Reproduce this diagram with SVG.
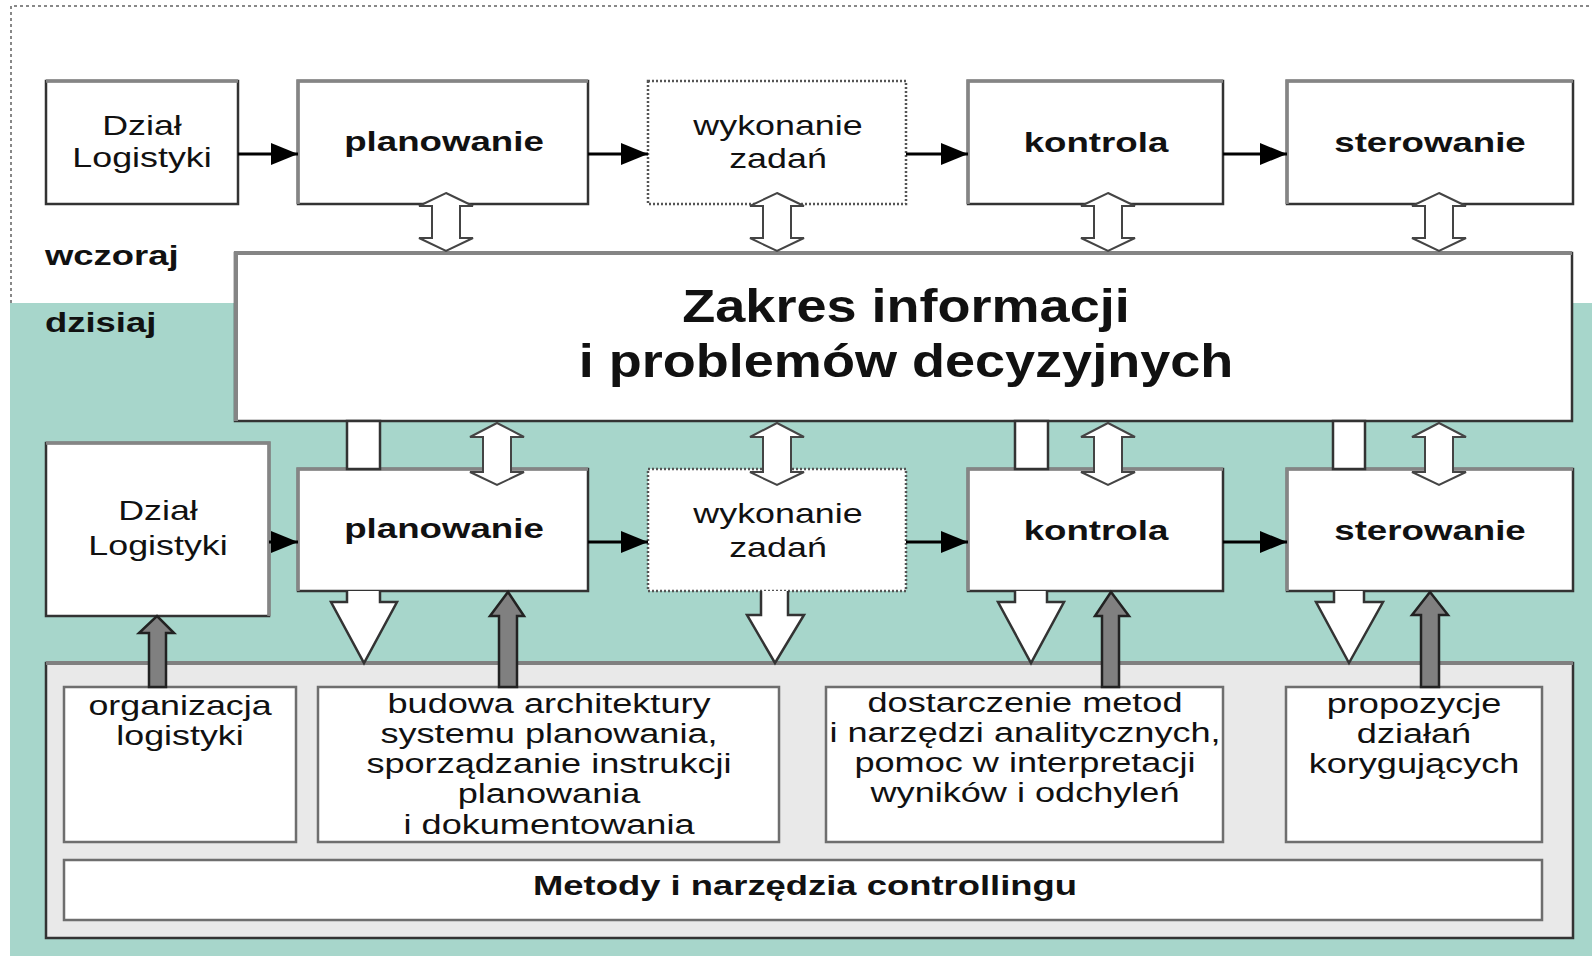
<svg xmlns="http://www.w3.org/2000/svg" width="1592" height="956" viewBox="0 0 1592 956">
<defs>
<style>
.t{font-family:"Liberation Sans",Arial,sans-serif;font-size:28px;fill:#111;text-anchor:middle}
.b{font-weight:bold}
.big{font-family:"Liberation Sans",Arial,sans-serif;font-size:47px;font-weight:bold;fill:#111;text-anchor:middle}
.box{fill:#fff;stroke:#333;stroke-width:2.5}
.dot{fill:#fff;stroke:#555;stroke-width:2.5;stroke-dasharray:2 2}
.hl{fill:none;stroke:#858585;stroke-width:3.5}
.sub{fill:#fff;stroke:#6e6e6e;stroke-width:2.5}
.dbl{fill:#fff;stroke:#444;stroke-width:2}
.wdn{fill:#fff;stroke:#333;stroke-width:2.5}
.gup{fill:#808080;stroke:#222;stroke-width:2.5}
.ln{stroke:#000;stroke-width:3;fill:none}
.frame{stroke:#888;stroke-width:2;stroke-dasharray:3 3;fill:none}
</style>
<marker id="ah" markerUnits="userSpaceOnUse" markerWidth="28" markerHeight="22" refX="27" refY="11" orient="auto">
<path d="M0,0 L27,11 L0,22 Z" fill="#000"/>
</marker>
</defs>

<g id="background">
<rect x="0" y="0" width="1592" height="956" fill="#fff"/>
<path class="frame" d="M11,303 V6 H1592"/>
<rect x="10" y="303" width="1582" height="653" fill="#a7d6cb"/>
<text class="t b" transform="translate(45,265) scale(1.35,1)" style="text-anchor:start;font-size:27px">wczoraj</text>
<text class="t b" transform="translate(45,332) scale(1.35,1)" style="text-anchor:start;font-size:27px">dzisiaj</text>
</g>

<g id="panel">
<rect x="46" y="663" width="1527" height="275" fill="#e9e9e9" stroke="#333" stroke-width="2.5"/>
<path d="M46,663 H1573" stroke="#808080" stroke-width="4"/>
</g>

<g id="zakres">
<rect class="box" x="235" y="253" width="1337" height="168"/>
<path class="hl" d="M236,421 V253 H1572" style="stroke-width:4"/>
<text class="big" transform="translate(906,322) scale(1.15,1)">Zakres informacji</text>
<text class="big" transform="translate(906,377) scale(1.15,1)">i problemów decyzyjnych</text>
</g>

<g id="dzial-top">
<rect class="box" x="46" y="81" width="192" height="123"/>
<path class="hl" d="M46,81 H238"/>
<text class="t" transform="translate(142,135) scale(1.28,1)">Dział</text>
<text class="t" transform="translate(142,167) scale(1.28,1)">Logistyki</text>
</g>
<g id="planowanie-top">
<rect class="box" x="298" y="81" width="290" height="123"/>
<path class="hl" d="M298,204 V81 H588"/>
<text class="t b" transform="translate(444,151) scale(1.31,1)">planowanie</text>
</g>
<g id="wykonanie-top">
<rect class="dot" x="648" y="81" width="258" height="123"/>
<text class="t" transform="translate(778,135) scale(1.28,1)">wykonanie</text>
<text class="t" transform="translate(778,168) scale(1.28,1)">zadań</text>
</g>
<g id="kontrola-top">
<rect class="box" x="968" y="81" width="255" height="123"/>
<path class="hl" d="M968,204 V81 H1223"/>
<text class="t b" transform="translate(1096,152) scale(1.31,1)">kontrola</text>
</g>
<g id="sterowanie-top">
<rect class="box" x="1287" y="81" width="286" height="123"/>
<path class="hl" d="M1287,204 V81 H1573"/>
<text class="t b" transform="translate(1430,152) scale(1.31,1)">sterowanie</text>
</g>

<g id="dzial-low">
<rect class="box" x="46" y="443" width="223" height="173"/>
<path class="hl" d="M46,443 H269 V616"/>
<text class="t" transform="translate(158,520) scale(1.28,1)">Dział</text>
<text class="t" transform="translate(158,555) scale(1.28,1)">Logistyki</text>
</g>
<g id="planowanie-low">
<rect class="box" x="298" y="469" width="290" height="122"/>
<path class="hl" d="M298,591 V469 H588"/>
<text class="t b" transform="translate(444,538) scale(1.31,1)">planowanie</text>
</g>
<g id="wykonanie-low">
<rect class="dot" x="648" y="469" width="258" height="122"/>
<text class="t" transform="translate(778,523) scale(1.28,1)">wykonanie</text>
<text class="t" transform="translate(778,557) scale(1.28,1)">zadań</text>
</g>
<g id="kontrola-low">
<rect class="box" x="968" y="469" width="255" height="122"/>
<path class="hl" d="M968,591 V469 H1223"/>
<text class="t b" transform="translate(1096,540) scale(1.31,1)">kontrola</text>
</g>
<g id="sterowanie-low">
<rect class="box" x="1287" y="469" width="286" height="122"/>
<path class="hl" d="M1287,591 V469 H1573"/>
<text class="t b" transform="translate(1430,540) scale(1.31,1)">sterowanie</text>
</g>

<g id="organizacja">
<rect class="sub" x="64" y="687" width="232" height="155"/>
<text class="t" transform="translate(180,715) scale(1.28,1)">organizacja</text>
<text class="t" transform="translate(180,745) scale(1.28,1)">logistyki</text>
</g>
<g id="budowa">
<rect class="sub" x="318" y="687" width="461" height="155"/>
<text class="t" transform="translate(549,713) scale(1.29,1)">budowa architektury</text>
<text class="t" transform="translate(549,743) scale(1.29,1)">systemu planowania,</text>
<text class="t" transform="translate(549,773) scale(1.29,1)">sporządzanie instrukcji</text>
<text class="t" transform="translate(549,803) scale(1.29,1)">planowania</text>
<text class="t" transform="translate(549,834) scale(1.29,1)">i dokumentowania</text>
</g>
<g id="dostarczenie">
<rect class="sub" x="826" y="687" width="397" height="155"/>
<text class="t" transform="translate(1025,712) scale(1.29,1)">dostarczenie metod</text>
<text class="t" transform="translate(1025,742) scale(1.29,1)">i narzędzi analitycznych,</text>
<text class="t" transform="translate(1025,772) scale(1.29,1)">pomoc w interpretacji</text>
<text class="t" transform="translate(1025,802) scale(1.29,1)">wyników i odchyleń</text>
</g>
<g id="propozycje">
<rect class="sub" x="1286" y="687" width="256" height="155"/>
<text class="t" transform="translate(1414,713) scale(1.29,1)">propozycje</text>
<text class="t" transform="translate(1414,743) scale(1.29,1)">działań</text>
<text class="t" transform="translate(1414,773) scale(1.29,1)">korygujących</text>
</g>
<g id="metody">
<rect class="sub" x="64" y="860" width="1478" height="60"/>
<text class="t b" transform="translate(805,895) scale(1.3,1)">Metody i narzędzia controllingu</text>
</g>

<g id="connectors">
<line class="ln" x1="238" y1="154" x2="298" y2="154" marker-end="url(#ah)"/>
<line class="ln" x1="588" y1="154" x2="648" y2="154" marker-end="url(#ah)"/>
<line class="ln" x1="906" y1="154" x2="968" y2="154" marker-end="url(#ah)"/>
<line class="ln" x1="1223" y1="154" x2="1287" y2="154" marker-end="url(#ah)"/>
<line class="ln" x1="269" y1="542" x2="298" y2="542" marker-end="url(#ah)"/>
<line class="ln" x1="588" y1="542" x2="648" y2="542" marker-end="url(#ah)"/>
<line class="ln" x1="906" y1="542" x2="968" y2="542" marker-end="url(#ah)"/>
<line class="ln" x1="1223" y1="542" x2="1287" y2="542" marker-end="url(#ah)"/>

<path class="dbl" d="M446,193 L473,206 L460,206 L460,238 L473,238 L446,251 L419,238 L432,238 L432,206 L419,206 Z"/>
<path class="dbl" d="M777,193 L804,206 L791,206 L791,238 L804,238 L777,251 L750,238 L763,238 L763,206 L750,206 Z"/>
<path class="dbl" d="M1108,193 L1135,206 L1122,206 L1122,238 L1135,238 L1108,251 L1081,238 L1094,238 L1094,206 L1081,206 Z"/>
<path class="dbl" d="M1439,193 L1466,206 L1453,206 L1453,238 L1466,238 L1439,251 L1412,238 L1425,238 L1425,206 L1412,206 Z"/>

<path class="dbl" d="M497,423 L524,437 L511,437 L511,472 L524,472 L497,485 L470,472 L483,472 L483,437 L470,437 Z"/>
<path class="dbl" d="M777,423 L804,437 L791,437 L791,472 L804,472 L777,485 L750,472 L763,472 L763,437 L750,437 Z"/>
<path class="dbl" d="M1108,423 L1135,437 L1122,437 L1122,472 L1135,472 L1108,485 L1081,472 L1094,472 L1094,437 L1081,437 Z"/>
<path class="dbl" d="M1439,423 L1466,437 L1453,437 L1453,472 L1466,472 L1439,485 L1412,472 L1425,472 L1425,437 L1412,437 Z"/>

<rect class="wdn" x="347" y="421" width="33" height="48"/>
<rect class="wdn" x="1015" y="421" width="33" height="48"/>
<rect class="wdn" x="1333" y="421" width="32" height="48"/>

<path class="wdn" d="M347,591 L347,602 L331,602 L364,663 L397,602 L380,602 L380,591"/>
<path class="wdn" d="M761,591 L761,615 L747,615 L775,663 L804,615 L788,615 L788,591"/>
<path class="wdn" d="M1015,591 L1015,602 L998,602 L1031,663 L1064,602 L1047,602 L1047,591"/>
<path class="wdn" d="M1334,591 L1334,602 L1316,602 L1349,663 L1383,602 L1364,602 L1364,591"/>

<path class="gup" d="M149,687 L149,633 L139,633 L157,616 L174,633 L166,633 L166,687 Z"/>
<path class="gup" d="M499,687 L499,616 L490,616 L508,592 L524,616 L517,616 L517,687 Z"/>
<path class="gup" d="M1102,687 L1102,616 L1095,616 L1111,592 L1129,616 L1119,616 L1119,687 Z"/>
<path class="gup" d="M1421,687 L1421,615 L1412,615 L1430,592 L1448,615 L1439,615 L1439,687 Z"/>
</g>
</svg>
